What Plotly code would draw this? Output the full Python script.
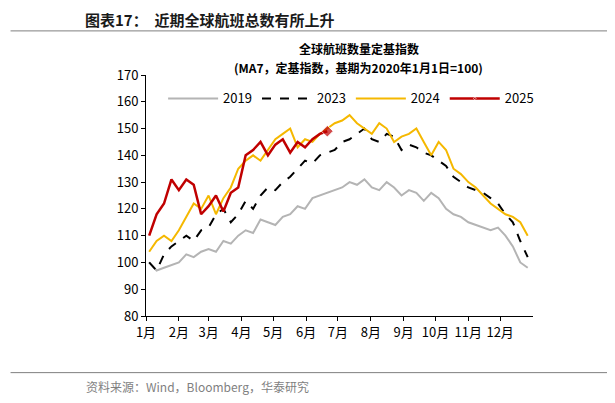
import plotly.graph_objects as go

months = ["1月","2月","3月","4月","5月","6月","7月","8月","9月","10月","11月","12月"]
month_start = [0,31,59,90,120,151,181,212,243,273,304,334]

y2019 = [100,97,98,99,100,103,102,104,105,104,108,107,110,112,111,116,115,114,117,118,121,120,124,125,126,127,128,130,129,131,128,127,130,128,125,127,126,123,126,124,120,118,117,115,114,113,112,113,110,106,100,98]
y2023 = [100,97,103,106,108,110,108,112,113,118,120,115,118,123,120,125,128,127,130,132,135,138,137,140,141,142,145,146,148,150,146,145,148,147,142,144,143,141,140,138,136,132,130,128,127,126,124,122,118,115,108,102]
y2024 = [104,108,110,108,112,117,122,120,125,118,124,128,135,138,140,138,142,146,148,150,143,146,145,148,150,152,153,155,152,150,148,152,150,145,147,148,150,145,140,145,142,135,133,130,128,125,122,120,118,117,115,110]
y2025 = [110,118,122,131,127,131,129,118,121,125,119,126,128,140,142,145,140,144,146,141,145,143,146,148,149]

def days(n):
    return [7*i+3 for i in range(n)]

fig = go.Figure()
fig.add_trace(go.Scatter(x=days(len(y2019)), y=y2019, name="2019", mode="lines",
                         line=dict(color="#b4b4b4", width=2)))
fig.add_trace(go.Scatter(x=days(len(y2023)), y=y2023, name="2023", mode="lines",
                         line=dict(color="#000000", width=2, dash="dash")))
fig.add_trace(go.Scatter(x=days(len(y2024)), y=y2024, name="2024", mode="lines",
                         line=dict(color="#f5b800", width=2)))
n25 = len(y2025)
fig.add_trace(go.Scatter(x=days(n25), y=y2025, name="2025", mode="lines+markers",
                         line=dict(color="#c00000", width=2.5),
                         marker=dict(symbol="diamond", size=[0]*(n25-1)+[9], color="#c00000")))

fig.update_layout(
    width=615, height=403, paper_bgcolor="white", plot_bgcolor="white",
    margin=dict(l=138, r=90, t=67, b=95),
    font=dict(family="Noto Sans CJK SC", size=13, color="black"),
    showlegend=True,
    legend=dict(orientation="h", x=0.53, xanchor="center", y=0.965, yanchor="top",
                font=dict(size=13), itemwidth=50, bgcolor="rgba(0,0,0,0)"),
    xaxis=dict(range=[0,365], tickmode="array", tickvals=month_start, ticktext=months,
               showgrid=False, showline=True, linecolor="black", ticks="outside",
               ticklen=4, tickcolor="black", zeroline=False),
    yaxis=dict(range=[80,170], dtick=10, showgrid=False, showline=True, linecolor="black",
               ticks="outside", ticklen=4, tickcolor="black", zeroline=False),
)
fig.add_annotation(text="<b>全球航班数量定基指数</b>", xref="paper", yref="paper",
                   x=0.55, y=1, xanchor="center", yanchor="bottom", showarrow=False,
                   font=dict(size=12), yshift=16)
fig.add_annotation(text="<b>(MA7，定基指数，基期为2020年1月1日=100)</b>", xref="paper", yref="paper",
                   x=0.55, y=1, xanchor="center", yanchor="bottom", showarrow=False,
                   font=dict(size=12), yshift=-3)
fig.add_annotation(text="<b>图表17：  近期全球航班总数有所上升</b>", xref="paper", yref="paper",
                   x=0, y=1, xanchor="left", yanchor="bottom", showarrow=False,
                   font=dict(size=15, color="#1a1a1a"), xshift=-63, yshift=43)
fig.add_shape(type="line", xref="paper", yref="paper", x0=-0.35, x1=1.3, y0=1.183, y1=1.183,
              line=dict(color="#7f7f7f", width=1))
fig.add_shape(type="line", xref="paper", yref="paper", x0=-0.35, x1=1.3, y0=-0.235, y1=-0.235,
              line=dict(color="#7f7f7f", width=1))
fig.add_annotation(text="资料来源：Wind，Bloomberg，华泰研究", xref="paper", yref="paper",
                   x=0, y=-0.25, xanchor="left", yanchor="top", showarrow=False,
                   font=dict(size=12, color="#7f7f7f"), xshift=-62)
fig.write_html("out.html")
